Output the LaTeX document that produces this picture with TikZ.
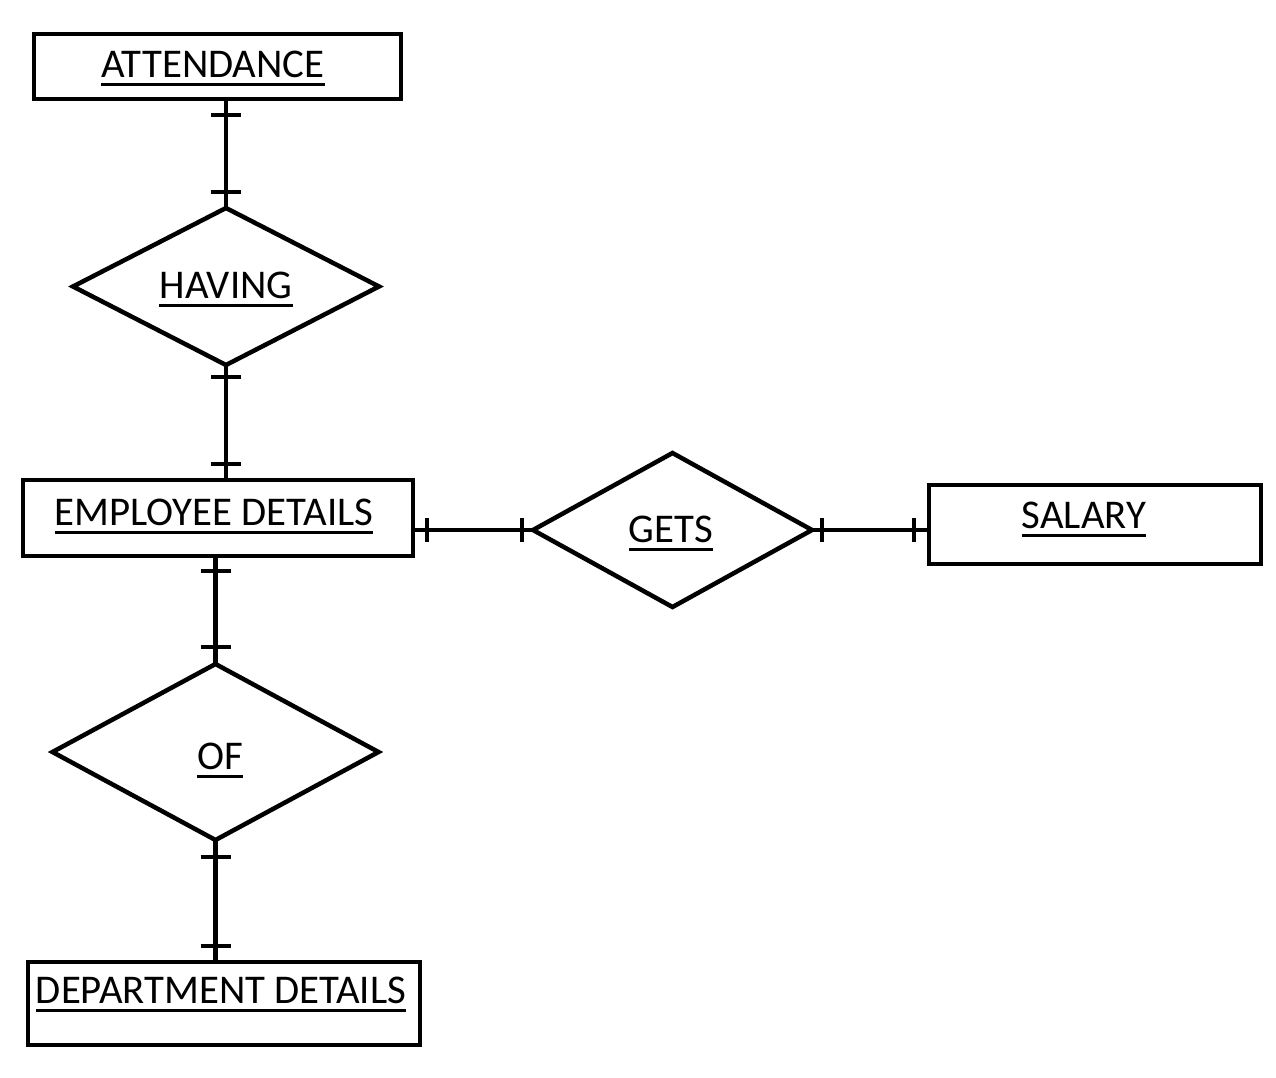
\documentclass[tikz,border=0pt]{standalone}
\usepackage{fontspec}
\setmainfont{Carlito}
\usetikzlibrary{shapes.geometric}
\begin{document}
\begin{tikzpicture}[x=1pt,y=-1pt,
  entity/.style={draw,line width=4.5pt,rectangle,inner sep=0pt,outer sep=0pt},
  relation/.style={draw,line width=4.5pt,diamond,inner sep=0pt,outer sep=0pt},
  lbl/.style={anchor=base,inner sep=0pt,font=\fontsize{40.8}{48}\selectfont},
  ul/.style={line width=3.3pt},
  conn/.style={line width=4.5pt},
  tickst/.style={line width=4.5pt}]
\useasboundingbox[fill=white] (0,0) rectangle (1276,1077);

% entities
\node[entity,minimum width=367pt,minimum height=65pt] (att) at (217.5,66.5) {};
\node[entity,minimum width=390pt,minimum height=76pt] (emp) at (218,518) {};
\node[entity,minimum width=332pt,minimum height=79pt] (sal) at (1095,524.5) {};
\node[entity,minimum width=392pt,minimum height=83pt] (dep) at (224,1003.5) {};

% relations
\node[relation,minimum width=306pt,minimum height=157pt] (hav) at (226,286.5) {};
\node[relation,minimum width=279pt,minimum height=154pt] (gets) at (672.5,530) {};
\node[relation,minimum width=326pt,minimum height=176pt] (of) at (215.5,752) {};

% labels
\node[lbl] (tatt) at (213,77) {ATTENDANCE};
\node[lbl] (thav) at (226,298) {HAVING};
\node[lbl] (temp) at (214,525) {EMPLOYEE DETAILS};
\node[lbl] (tgets) at (671,542) {GETS};
\node[lbl] (tsal) at (1084,528) {SALARY};
\node[lbl] (tof) at (220,769) {OF};
\node[lbl] (tdep) at (221,1003) {DEPARTMENT DETAILS};
\foreach \t in {tatt,thav,temp,tgets,tsal,tof,tdep}{
  \draw[ul] ([yshift=-7.5pt]\t.base west) -- ([yshift=-7.5pt]\t.base east);
}

% connectors
\draw[conn] (hav.north |- att.south) -- (hav.north);
\draw[conn] (hav.south) -- (hav.south |- emp.north);
\draw[conn] (gets.west -| emp.east) -- (gets.west);
\draw[conn] (gets.east) -- (gets.east -| sal.west);
\draw[conn] (of.north |- emp.south) -- (of.north);
\draw[conn] (of.south) -- (of.south |- dep.north);

% ticks (one-and-only-one markers)
\draw[tickst] (211,115) -- (241,115);
\draw[tickst] (211,192) -- (241,192);
\draw[tickst] (211,377) -- (241,377);
\draw[tickst] (211,464) -- (241,464);
\draw[tickst] (427,518) -- (427,542);
\draw[tickst] (522,518) -- (522,542);
\draw[tickst] (822,518) -- (822,542);
\draw[tickst] (914,518) -- (914,542);
\draw[tickst] (200.5,571) -- (230.5,571);
\draw[tickst] (200.5,647) -- (230.5,647);
\draw[tickst] (200.5,857) -- (230.5,857);
\draw[tickst] (200.5,946) -- (230.5,946);
\end{tikzpicture}
\end{document}
